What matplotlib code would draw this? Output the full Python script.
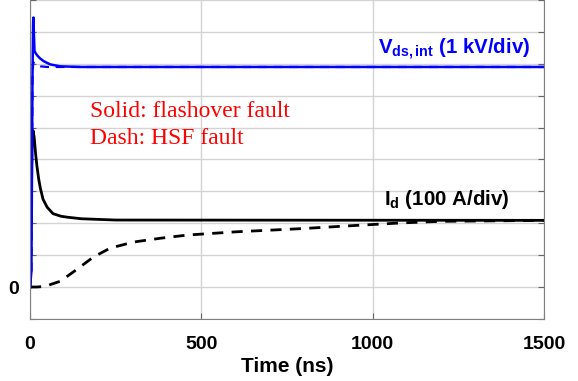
import numpy as np
import matplotlib
matplotlib.use("Agg")
import matplotlib.pyplot as plt

plt.rcParams['font.family'] = 'Liberation Sans'
plt.rcParams['mathtext.fontset'] = 'custom'
plt.rcParams['mathtext.rm'] = 'Liberation Sans:bold'
plt.rcParams['mathtext.bf'] = 'Liberation Sans:bold'
plt.rcParams['mathtext.it'] = 'Liberation Sans:bold'

# waveforms in divisions (V: 1 kV/div, I: 100 A/div), time in ns
t_vds_flash = [0, 4, 7, 9, 10, 11, 13, 17, 22, 29, 40, 59, 88, 150, 1500]
vds_flash = [0, 0.5, 6.5, 8.3, 8.45, 8.0, 7.4, 7.32, 7.25, 7.17, 7.08, 6.98, 6.92, 6.9, 6.9]

t_vds_hsf = [0, 4, 7, 9, 12, 20, 30, 50, 80, 1500]
vds_hsf = [0, 0.5, 6.5, 7.05, 7.0, 6.95, 6.92, 6.9, 6.9, 6.9]

t_id_flash = [0, 3, 6, 9, 12, 16, 20, 25, 30, 38, 50, 67, 90, 108, 150, 250, 1500]
id_flash = [0, 2.5, 4.6, 4.9, 4.7, 4.2, 3.8, 3.4, 3.1, 2.75, 2.5, 2.3, 2.22, 2.19, 2.14, 2.1, 2.09]

t_id_hsf = [0, 20, 45, 60, 88, 126, 185, 234, 302, 381, 460, 600, 791, 950, 1084, 1200, 1500]
id_hsf = [0, 0, 0.02, 0.08, 0.18, 0.47, 0.94, 1.22, 1.41, 1.53, 1.63, 1.73, 1.83, 1.93, 2.01, 2.06, 2.09]

xticks = [0, 500, 1000, 1500]
yticks = list(range(-1, 10))

fig = plt.figure(figsize=(5.78, 3.81), dpi=100)
ax = fig.add_axes([0.052, 0.163, 0.889, 0.837])

ax.plot(t_id_hsf, id_hsf, color='black', lw=2.0, ls=(0, (4, 3)))
ax.plot(t_vds_hsf, vds_hsf, color='blue', lw=1.6, ls=(0, (4, 3)))
ax.plot(t_id_flash, id_flash, color='black', lw=2.0)
ax.plot(t_vds_flash, vds_flash, color='blue', lw=1.8)

ax.set_xlim(0, 1500)
ax.set_ylim(-1, 9)
ax.set_xticks(xticks)
ax.set_xticklabels([str(x) for x in xticks], fontweight='bold', fontsize=14)
ax.set_yticks(yticks)
ax.set_yticklabels(['0' if y == 0 else '' for y in yticks], fontweight='bold', fontsize=14)
ax.tick_params(direction='in', length=4, color='#666666', right=True)
ax.tick_params(axis='x', pad=12)
ax.tick_params(axis='y', pad=8)
ax.grid(True, color='#d4d4d4', lw=1)
ax.set_axisbelow(True)
for side in ['left', 'right', 'bottom']:
    ax.spines[side].set_color('#808080')
ax.spines['top'].set_visible(False)

ax.set_xlabel('Time (ns)', fontweight='bold', fontsize=15, labelpad=3)

ax.text(1459, 7.31, r'V$_{\mathrm{ds,int}}$ (1 kV/div)', color='blue',
        fontweight='bold', fontsize=14.7, ha='right', va='baseline')
ax.text(1400, 2.56, r'I$_{\mathrm{d}}$ (100 A/div)', color='black',
        fontweight='bold', fontsize=14.8, ha='right', va='baseline')

ax.text(176, 5.34, 'Solid: flashover fault', color='red', family='Liberation Serif',
        fontsize=17, va='baseline')
ax.text(176, 4.47, 'Dash: HSF fault', color='red', family='Liberation Serif',
        fontsize=17, va='baseline')

fig.savefig('out.png', dpi=100)
